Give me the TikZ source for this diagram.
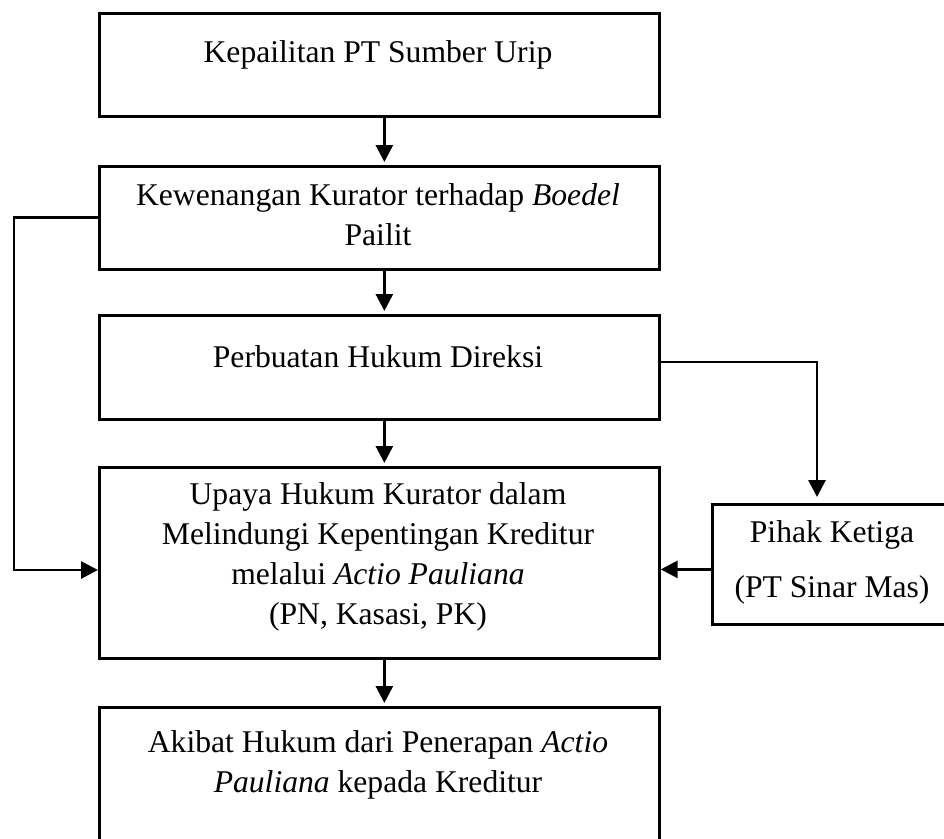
\documentclass[tikz,border=0pt]{standalone}
\usepackage{fontspec}
\setmainfont{Liberation Serif}
\usetikzlibrary{arrows.meta, positioning}

\begin{document}
\begin{tikzpicture}[x=0.02cm, y=-0.02cm,
  kotak/.style={draw, line width=1.6pt, anchor=north west, inner sep=0pt, minimum width=11.2cm},
  teks/.style={align=center, inner sep=0pt, font=\fontsize{18}{22.8}\selectfont},
  panah/.style={-{Triangle[length=0.34cm, width=0.34cm]}, line width=1.6pt}]
                    \useasboundingbox (0,0) rectangle (944,839);
                    % kotak-kotak
                    \node[kotak, minimum height=2.06cm](kepailitan) at (98,12){};
                    \node[kotak, minimum height=2.06cm](kewenangan) at (98,165){};
                    \node[kotak, minimum height=2.08cm](perbuatan) at (98,314){};
                    \node[kotak, minimum height=3.82cm](upaya) at (98,466){};
                    \node[kotak, minimum height=3.2cm](akibat) at (98,706){};
                    \node[kotak, minimum width=4.84cm, minimum height=2.4cm](pihak) at (711,503){};
                    % teks
                    \node[teks](t-kepailitan) at (378,55){Kepailitan PT Sumber Urip};
                    \node[teks](t-kewenangan) at (378,215){Kewenangan Kurator terhadap \textit{Boedel}\\Pailit};
                    \node[teks](t-perbuatan) at (378,357){Perbuatan Hukum Direksi};
                    \node[teks](t-upaya) at (378,557){Upaya Hukum Kurator dalam\\Melindungi Kepentingan Kreditur\\melalui \textit{Actio Pauliana}\\(PN, Kasasi, PK)};
                    \node[teks](t-akibat) at (378,765){Akibat Hukum dari Penerapan \textit{Actio}\\\textit{Pauliana} kepada Kreditur};
                    \node[teks, font=\fontsize{18}{31.3}\selectfont](t-pihak) at (832,562){Pihak Ketiga\\(PT Sinar Mas)};
                    % titik belok
                    \coordinate(kiri) at (14,570);
                    \coordinate(kanan) at (817,362);
                    % panah
                    \draw[panah, shorten >=0.06cm] ([xshift=0.1cm]kepailitan.south) -- ([xshift=0.1cm]kewenangan.north);
                    \draw[panah, shorten >=0.06cm] ([xshift=0.1cm]kewenangan.south) -- ([xshift=0.1cm]perbuatan.north);
                    \draw[panah, shorten >=0.06cm] ([xshift=0.1cm]perbuatan.south) -- ([xshift=0.1cm]upaya.north);
                    \draw[panah, shorten >=0.06cm] ([xshift=0.1cm]upaya.south) -- ([xshift=0.1cm]akibat.north);
                    \draw[panah] (kewenangan.west) -| (kiri) -- (kiri -| upaya.west);
                    \draw[panah, shorten >=0.12cm] (kanan -| perbuatan.east) -- (kanan) -- (kanan |- pihak.north);
                    \draw[panah] ([yshift=-0.1cm]pihak.west) -- ([yshift=-0.1cm]pihak.west -| upaya.east);
                \end{tikzpicture}
\end{document}
